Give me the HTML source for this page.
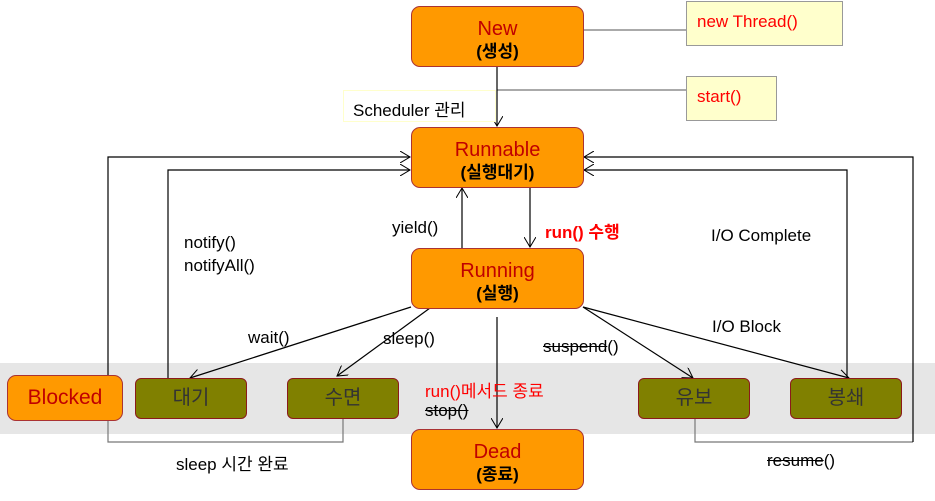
<!DOCTYPE html>
<html><head><meta charset="utf-8"><style>
body{margin:0;width:935px;height:501px;background:#fff;position:relative;overflow:hidden;font-family:"Liberation Sans","Noto Sans CJK KR",sans-serif;}
.a{position:absolute;white-space:nowrap;}
.st{position:absolute;background:#ff9900;border:1px solid #a33;border-radius:9px;text-align:center;box-sizing:border-box;}
.st .t{color:#c00000;font-size:20px;line-height:22px;margin-top:11px;}
.st .s{color:#000;font-size:17px;font-weight:bold;line-height:23px;}
.g{position:absolute;background:#808000;border:1px solid #8b1a1a;border-radius:6px;box-sizing:border-box;color:#333;font-size:20px;text-align:center;line-height:38px;}
.n{position:absolute;background:#ffffcc;border:1px solid #999;box-sizing:border-box;color:#f00;font-size:17px;padding:10px 0 0 10px;}
.l{font-size:17px;color:#000;}
s{text-decoration:line-through;}
</style></head><body>
<div class="a" style="left:0;top:363px;width:935px;height:71px;background:#e6e6e6"></div>
<svg class="a" style="left:0;top:0" width="935" height="501">
<defs><marker id="m" markerWidth="12" markerHeight="12" refX="10" refY="6" orient="auto" markerUnits="userSpaceOnUse"><path d="M0,0 L10,6 L0,12" fill="none" stroke="#000" stroke-width="1"/></marker></defs>
<g stroke="#777" fill="none" stroke-width="1.2">
<line x1="583" y1="30" x2="686" y2="30"/>
<line x1="497" y1="90" x2="686" y2="90"/>
<polyline points="343,418 343,442 108,442 108,420"/>
<polyline points="695,418 695,442 913,442"/>
</g>
<g stroke="#000" fill="none" stroke-width="1.2">
<line x1="497" y1="66" x2="497" y2="126" marker-end="url(#m)"/>
<polyline points="108,420 108,157 410,157" marker-end="url(#m)"/>
<polyline points="168,378 168,170 410,170" marker-end="url(#m)"/>
<polyline points="913,442 913,157 584,157" marker-end="url(#m)"/>
<polyline points="847,378 847,170 584,170" marker-end="url(#m)"/>
<line x1="462" y1="248" x2="462" y2="188" marker-end="url(#m)"/>
<line x1="530" y1="187" x2="530" y2="247" marker-end="url(#m)"/>
<line x1="411" y1="307" x2="190" y2="378" marker-end="url(#m)"/>
<line x1="430" y1="308" x2="337" y2="376" marker-end="url(#m)"/>
<line x1="497" y1="317" x2="497" y2="428" marker-end="url(#m)"/>
<line x1="583" y1="307" x2="693" y2="378" marker-end="url(#m)"/>
<line x1="583" y1="307" x2="849" y2="378" marker-end="url(#m)"/>
</g></svg>
<div class="st" style="left:411px;top:6px;width:173px;height:61px"><div class="t">New</div><div class="s">(생성)</div></div>
<div class="st" style="left:411px;top:127px;width:173px;height:61px"><div class="t">Runnable</div><div class="s">(실행대기)</div></div>
<div class="st" style="left:411px;top:248px;width:173px;height:61px"><div class="t">Running</div><div class="s">(실행)</div></div>
<div class="st" style="left:411px;top:429px;width:173px;height:61px"><div class="t">Dead</div><div class="s">(종료)</div></div>
<div class="st" style="left:7px;top:375px;width:116px;height:46px"><div class="t" style="margin-top:11px;font-size:21px">Blocked</div></div>
<div class="g" style="left:135px;top:378px;width:112px;height:41px">대기</div>
<div class="g" style="left:287px;top:378px;width:112px;height:41px">수면</div>
<div class="g" style="left:638px;top:378px;width:112px;height:41px">유보</div>
<div class="g" style="left:790px;top:378px;width:112px;height:41px">봉쇄</div>
<div class="n" style="left:686px;top:1px;width:157px;height:45px">new Thread()</div>
<div class="n" style="left:686px;top:76px;width:91px;height:45px">start()</div>
<div class="a l" style="left:343px;top:90px;width:153px;height:32px;border:1px solid #ffffcc;box-sizing:border-box;padding:5px 0 0 9px;background:#fff">Scheduler 관리</div>
<div class="a l" style="left:184px;top:233px">notify()</div>
<div class="a l" style="left:184px;top:256px">notifyAll()</div>
<div class="a l" style="left:392px;top:218px">yield()</div>
<div class="a l" style="left:545px;top:218px;color:#f00;font-weight:bold">run() 수행</div>
<div class="a l" style="left:711px;top:226px">I/O Complete</div>
<div class="a l" style="left:248px;top:328px">wait()</div>
<div class="a l" style="left:383px;top:329px">sleep()</div>
<div class="a l" style="left:543px;top:337px"><s>suspend</s>()</div>
<div class="a l" style="left:712px;top:317px">I/O Block</div>
<div class="a l" style="left:425px;top:377px;color:#f00">run()메서드 종료</div>
<div class="a l" style="left:425px;top:401px"><s>stop()</s></div>
<div class="a l" style="left:176px;top:450px">sleep 시간 완료</div>
<div class="a l" style="left:767px;top:451px"><s>resume</s>()</div>
</body></html>
